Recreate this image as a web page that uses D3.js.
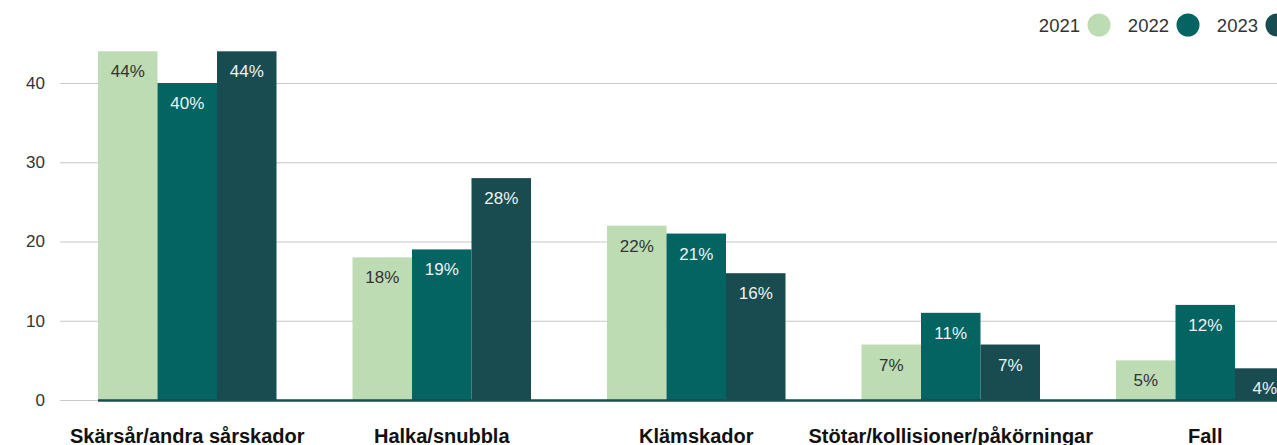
<!DOCTYPE html>
<html>
<head>
<meta charset="utf-8">
<script src="https://cdn.jsdelivr.net/npm/d3@7"></script>
<style>
  body { margin: 0; background: #fff; }
  svg { display: block; font-family: "Liberation Sans", Arial, sans-serif; }
</style>
</head>
<body>
<div id="chart"></div>
<script>
// grouped bars, injuries per category and year

var categories = ["Skärsår/andra sårskador", "Halka/snubbla", "Klämskador",
                  "Stötar/kollisioner/påkörningar", "Fall"];
var years = ["2021", "2022", "2023"];
var values2021 = [44, 18, 22, 7, 5];
var values2022 = [40, 19, 21, 11, 12];
var values2023 = [44, 28, 16, 7, 4];
var yTicks = [0, 10, 20, 30, 40];

var colors = {"2021": "#bddcb3", "2022": "#036462", "2023": "#194c51"};
var labelColors = {"2021": "#333", "2022": "#eef3f2", "2023": "#eef3f2"};

var series = {"2021": values2021, "2022": values2022, "2023": values2023};

var width = 1277, height = 445;

var svg = d3.select("#chart").append("svg")
    .attr("width", width)
    .attr("height", height);

var x0 = d3.scaleBand()
    .domain(categories)
    .range([98, 1294.5])
    .paddingInner(0.2986)
    .paddingOuter(0);

var x1 = d3.scaleBand()
    .domain(years)
    .range([0, x0.bandwidth()]);

var y = d3.scaleLinear()
    .domain([0, 40])
    .range([400, 83]);

// grid
var grid = svg.append("g");
grid.selectAll("line")
    .data(yTicks)
    .enter().append("line")
    .attr("x1", 60)
    .attr("x2", width)
    .attr("y1", function(d) { return y(d) + 0.5; })
    .attr("y2", function(d) { return y(d) + 0.5; })
    .attr("stroke", "#c8c8c8")
    .attr("stroke-width", 1.2);

// y axis labels
var yAxis = d3.axisLeft(y).tickValues(yTicks).tickSize(0).tickPadding(0);
var ya = svg.append("g")
    .attr("transform", "translate(45,0)")
    .call(yAxis);
ya.select(".domain").remove();
ya.selectAll("text")
    .attr("fill", "#333")
    .attr("font-size", "17px")
    .attr("font-family", "Liberation Sans, Arial, sans-serif");

// bars
var rows = [];
categories.forEach(function(c, i) {
    years.forEach(function(yr) {
        rows.push({cat: c, year: yr, value: series[yr][i]});
    });
});

var bars = svg.append("g");
bars.selectAll("rect")
    .data(rows)
    .enter().append("rect")
    .attr("x", function(d) { return x0(d.cat) + x1(d.year); })
    .attr("width", x1.bandwidth())
    .attr("y", function(d) { return y(d.value); })
    .attr("height", function(d) { return y(0) - y(d.value); })
    .attr("fill", function(d) { return colors[d.year]; });

bars.selectAll("text")
    .data(rows)
    .enter().append("text")
    .attr("x", function(d) { return x0(d.cat) + x1(d.year) + x1.bandwidth() / 2; })
    .attr("y", function(d) { return y(d.value) + 26; })
    .attr("text-anchor", "middle")
    .attr("font-size", "17px")
    .attr("fill", function(d) { return labelColors[d.year]; })
    .text(function(d) { return d.value + "%"; });

// baseline
svg.append("line")
    .attr("x1", 98)
    .attr("x2", width)
    .attr("y1", y(0) + 0.5)
    .attr("y2", y(0) + 0.5)
    .attr("stroke", "#194c51")
    .attr("stroke-width", 2.5);

// category labels
var xAxis = d3.axisBottom(x0).tickSize(0).tickPadding(0);
var xa = svg.append("g")
    .attr("transform", "translate(0,443)")
    .call(xAxis);
xa.select(".domain").remove();
xa.selectAll("text")
    .attr("dy", "0")
    .attr("y", 0)
    .attr("fill", "#111")
    .attr("font-size", "20px")
    .attr("font-weight", "bold")
    .attr("font-family", "Liberation Sans, Arial, sans-serif");

// legend
var legend = svg.append("g").selectAll("g")
    .data(years)
    .enter().append("g")
    .attr("transform", function(d, i) { return "translate(" + (1080 + i * 89) + ",25)"; });

legend.append("text")
    .attr("text-anchor", "end")
    .attr("dy", "0.36em")
    .attr("font-size", "18.5px")
    .attr("fill", "#333")
    .text(function(d) { return d; });

legend.append("circle")
    .attr("cx", 19)
    .attr("r", 11.5)
    .attr("fill", function(d) { return colors[d]; });
</script>
</body>
</html>
